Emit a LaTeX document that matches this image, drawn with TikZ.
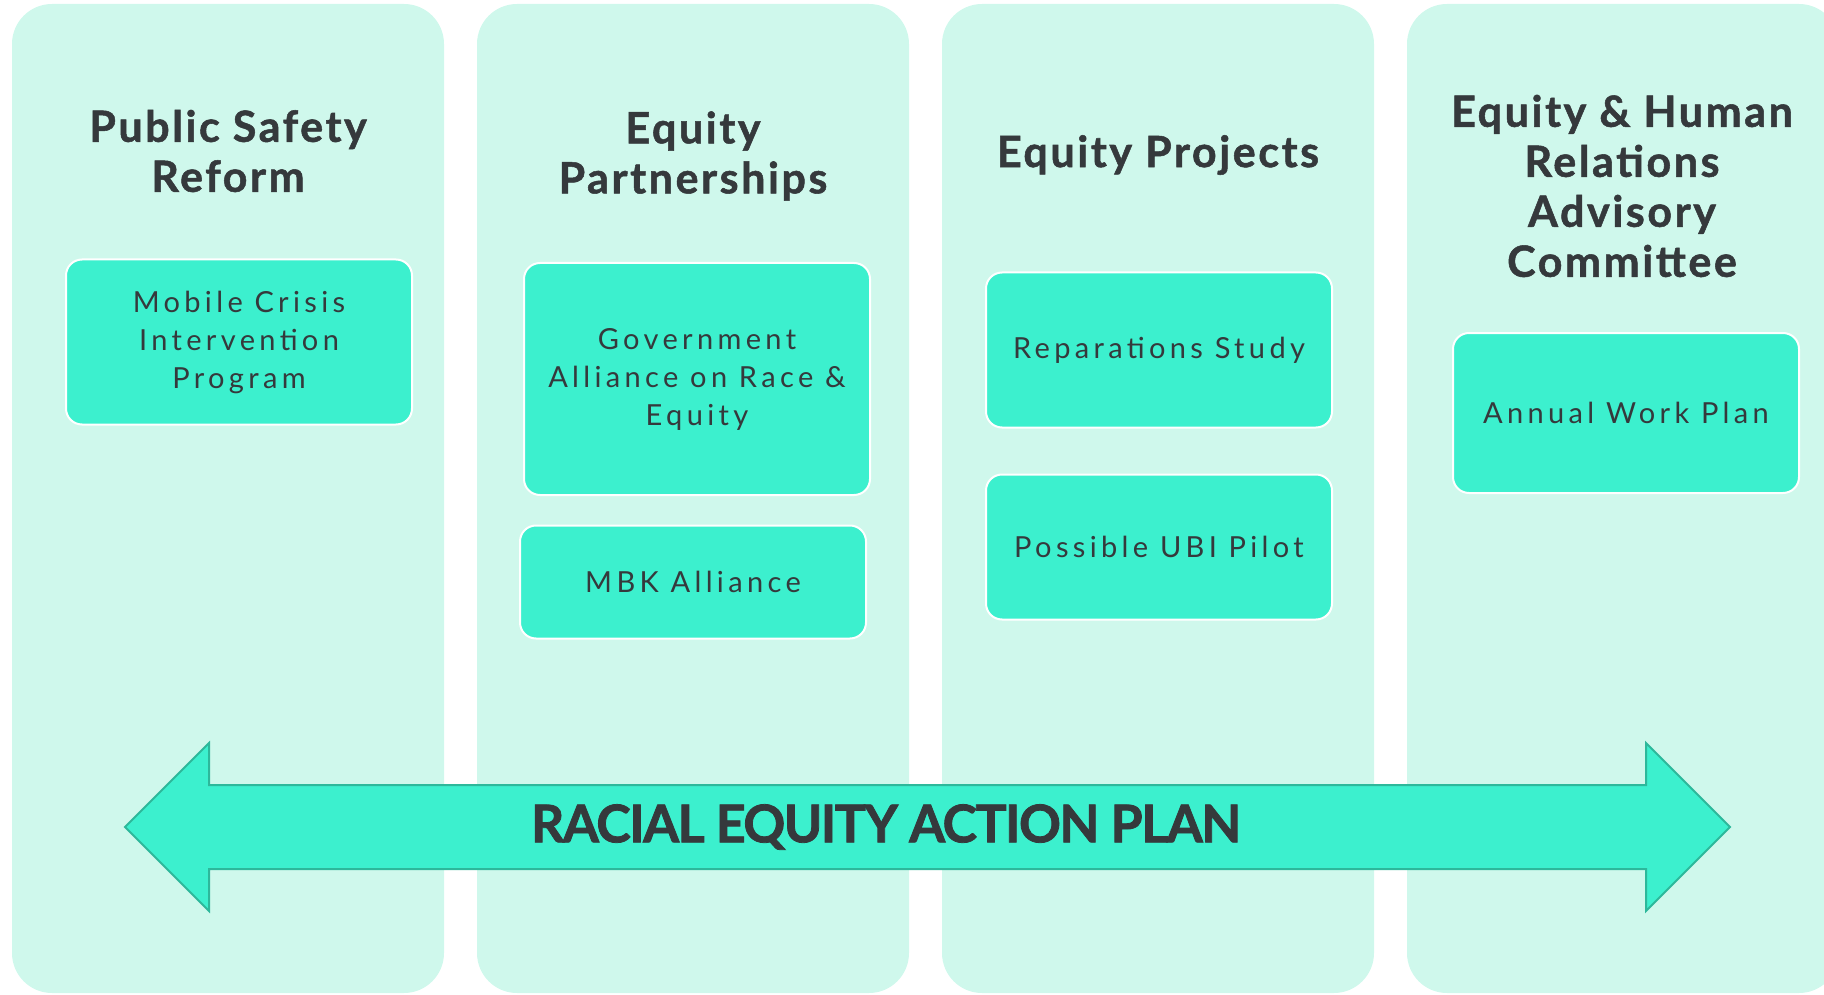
\documentclass[tikz,border=0pt]{standalone}
\usepackage{fontspec}
\setmainfont{Lato}
\newfontfamily\itemfont[LetterSpace=15]{Lato}
\newfontfamily\headfont[LetterSpace=6,FakeBold=1.2]{Lato}
\newfontfamily\planfont[LetterSpace=-3,FakeBold=1.5]{Lato}
\usetikzlibrary{positioning}
\definecolor{colfill}{HTML}{CFF8EC}
\definecolor{boxfill}{HTML}{3CF0CE}
\definecolor{arrowline}{HTML}{2DB89B}
\definecolor{inkgray}{HTML}{35393C}
\newcommand{\colradius}{40pt}
\newcommand{\boxradius}{16pt}
\tikzset{
  column/.style={rectangle, fill=colfill, rounded corners=\colradius, minimum width=432pt, minimum height=989pt, inner sep=0pt},
  heading/.style={text=inkgray, align=center, font=\fontsize{43}{50}\selectfont\headfont\bfseries},
  item/.style={rectangle, draw=white, line width=2pt, fill=boxfill, rounded corners=\boxradius, minimum width=346pt, inner sep=0pt, text=inkgray, align=center, font=\fontsize{29}{38}\selectfont\itemfont},
  bigarrow/.style={fill=boxfill, draw=arrowline, line width=2pt, line join=miter},
  plan/.style={text=inkgray, font=\fontsize{52}{60}\selectfont\planfont\bfseries}
}

\begin{document}
\begin{tikzpicture}[x=1pt,y=-1pt]
\useasboundingbox (0,0) rectangle (1824,995);
\clip (0,0) rectangle (1824,995);
%columns
\node[column] (c1) at (228,498.5) {};
\node[column] (c2) at (693,498.5) {};
\node[column] (c3) at (1158,498.5) {};
\node[column] (c4) at (1623,498.5) {};
%headings
\node[heading] (h1) at (228,151) {Public Safety\\Reform};
\node[heading] (h2) at (693,156) {Equity\\Partnerships};
\node[heading] (h3) at (1158,155) {Equity Projects};
\node[heading] (h4) at (1622,186) {Equity \& Human\\Relations\\Advisory\\Committee};
%items
\node[item, minimum height=165pt] (mobile) at (239,342) {Mobile Crisis\\Intervention\\Program};
\node[item, minimum height=232pt] (gare) at (697,379) {Government\\Alliance on Race \&\\Equity};
\node[item, minimum height=113pt] (mbk) at (693,582) {MBK Alliance};
\node[item, minimum height=155pt] (reparations) at (1159,350) {Reparations Study};
\node[item, minimum height=145pt] (ubi) at (1159,547) {Possible UBI Pilot};
\node[item, minimum height=160pt] (workplan) at (1626,413) {Annual Work Plan};
%arrow
\draw[bigarrow] (125,827) -- (209,743) -- (209,785) -- (1646,785) -- (1646,743) -- (1730,827)
  -- (1646,911) -- (1646,869) -- (209,869) -- (209,911) -- cycle;
\node[plan] (plan) at (886,827) {RACIAL EQUITY ACTION PLAN};
\end{tikzpicture}
\end{document}
